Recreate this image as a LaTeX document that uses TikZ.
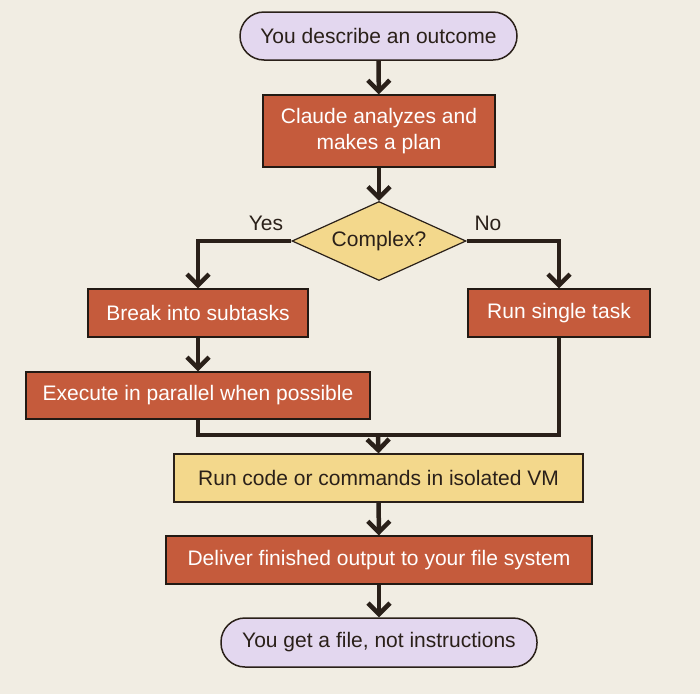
\documentclass[tikz,border=0pt]{standalone}
\usepackage{fontspec}
\setmainfont{Liberation Sans}
\usetikzlibrary{shapes.geometric,arrows.meta}
\definecolor{bg}{HTML}{F1EDE3}
\definecolor{ink}{HTML}{2A2019}
\definecolor{rust}{HTML}{C55B3C}
\definecolor{lilac}{HTML}{E3D7EF}
\definecolor{sand}{HTML}{F3D88C}
\tikzset{
  pill/.style={draw=ink, line width=1.5pt, fill=lilac, rounded corners=24pt, text=ink, font=\fontsize{21}{25}\selectfont},
  rustbox/.style={draw=ink!80!black, line width=1.2pt, fill=rust, text=white, font=\fontsize{21}{26}\selectfont, align=center},
  sandbox/.style={draw=ink, line width=1.2pt, fill=sand, text=ink, font=\fontsize{21}{25}\selectfont},
  decide/.style={diamond, draw=ink, line width=1.2pt, fill=sand, text=ink, aspect=2.2, inner sep=0pt, font=\fontsize{21}{25}\selectfont},
  flow/.style={draw=ink, line width=4.5pt, -{Straight Barb[length=11pt,width=22pt,line width=4.5pt]}},
  link/.style={draw=ink, line width=4.5pt},
  lbl/.style={text=ink, font=\fontsize{21}{25}\selectfont}
}
\begin{document}
\begin{tikzpicture}[x=1pt,y=-1pt]
\fill[bg] (0,0) rectangle (700,694);
\useasboundingbox (0,0) rectangle (700,694);
\node[pill, minimum width=277pt, minimum height=48pt] (start) at (378.5,36) {You describe an outcome};
\node[rustbox, minimum width=232pt, minimum height=72pt] (plan) at (379,131) {Claude analyzes and\\makes a plan};
\node[decide, minimum width=174pt, minimum height=79pt] (cx) at (379,241) {Complex?};
\node[rustbox, minimum width=220pt, minimum height=48pt] (brk) at (198,313) {Break into subtasks};
\node[rustbox, minimum width=182pt, minimum height=48pt] (single) at (559,313) {Run single task};
\node[rustbox, minimum width=344pt, minimum height=47pt] (exe) at (198,395.5) {Execute in parallel when possible};
\node[sandbox, minimum width=409pt, minimum height=48pt] (vm) at (378.5,478) {Run code or commands in isolated VM};
\node[rustbox, minimum width=426pt, minimum height=48pt] (dlv) at (379,560) {Deliver finished output to your file system};
\node[pill, minimum width=316pt, minimum height=49pt] (end) at (379,642.5) {You get a file, not instructions};
\node[lbl] (yes) at (266,223) {Yes};
\node[lbl] (no) at (488,223) {No};
\coordinate (merge) at (378,435);
\draw[flow] (start) -- (plan);
\draw[flow] (plan) -- (cx);
\draw[flow] (cx.west) -| (brk.north);
\draw[flow] (cx.east) -| (single.north);
\draw[flow] (brk) -- (brk.south |- exe.north);
\draw[link] (exe.south) |- (merge);
\draw[link] (single.south) |- (merge);
\draw[flow] (merge) -- (vm.north);
\draw[flow] (vm) -- (dlv);
\draw[flow] (dlv) -- (end);
\end{tikzpicture}
\end{document}
